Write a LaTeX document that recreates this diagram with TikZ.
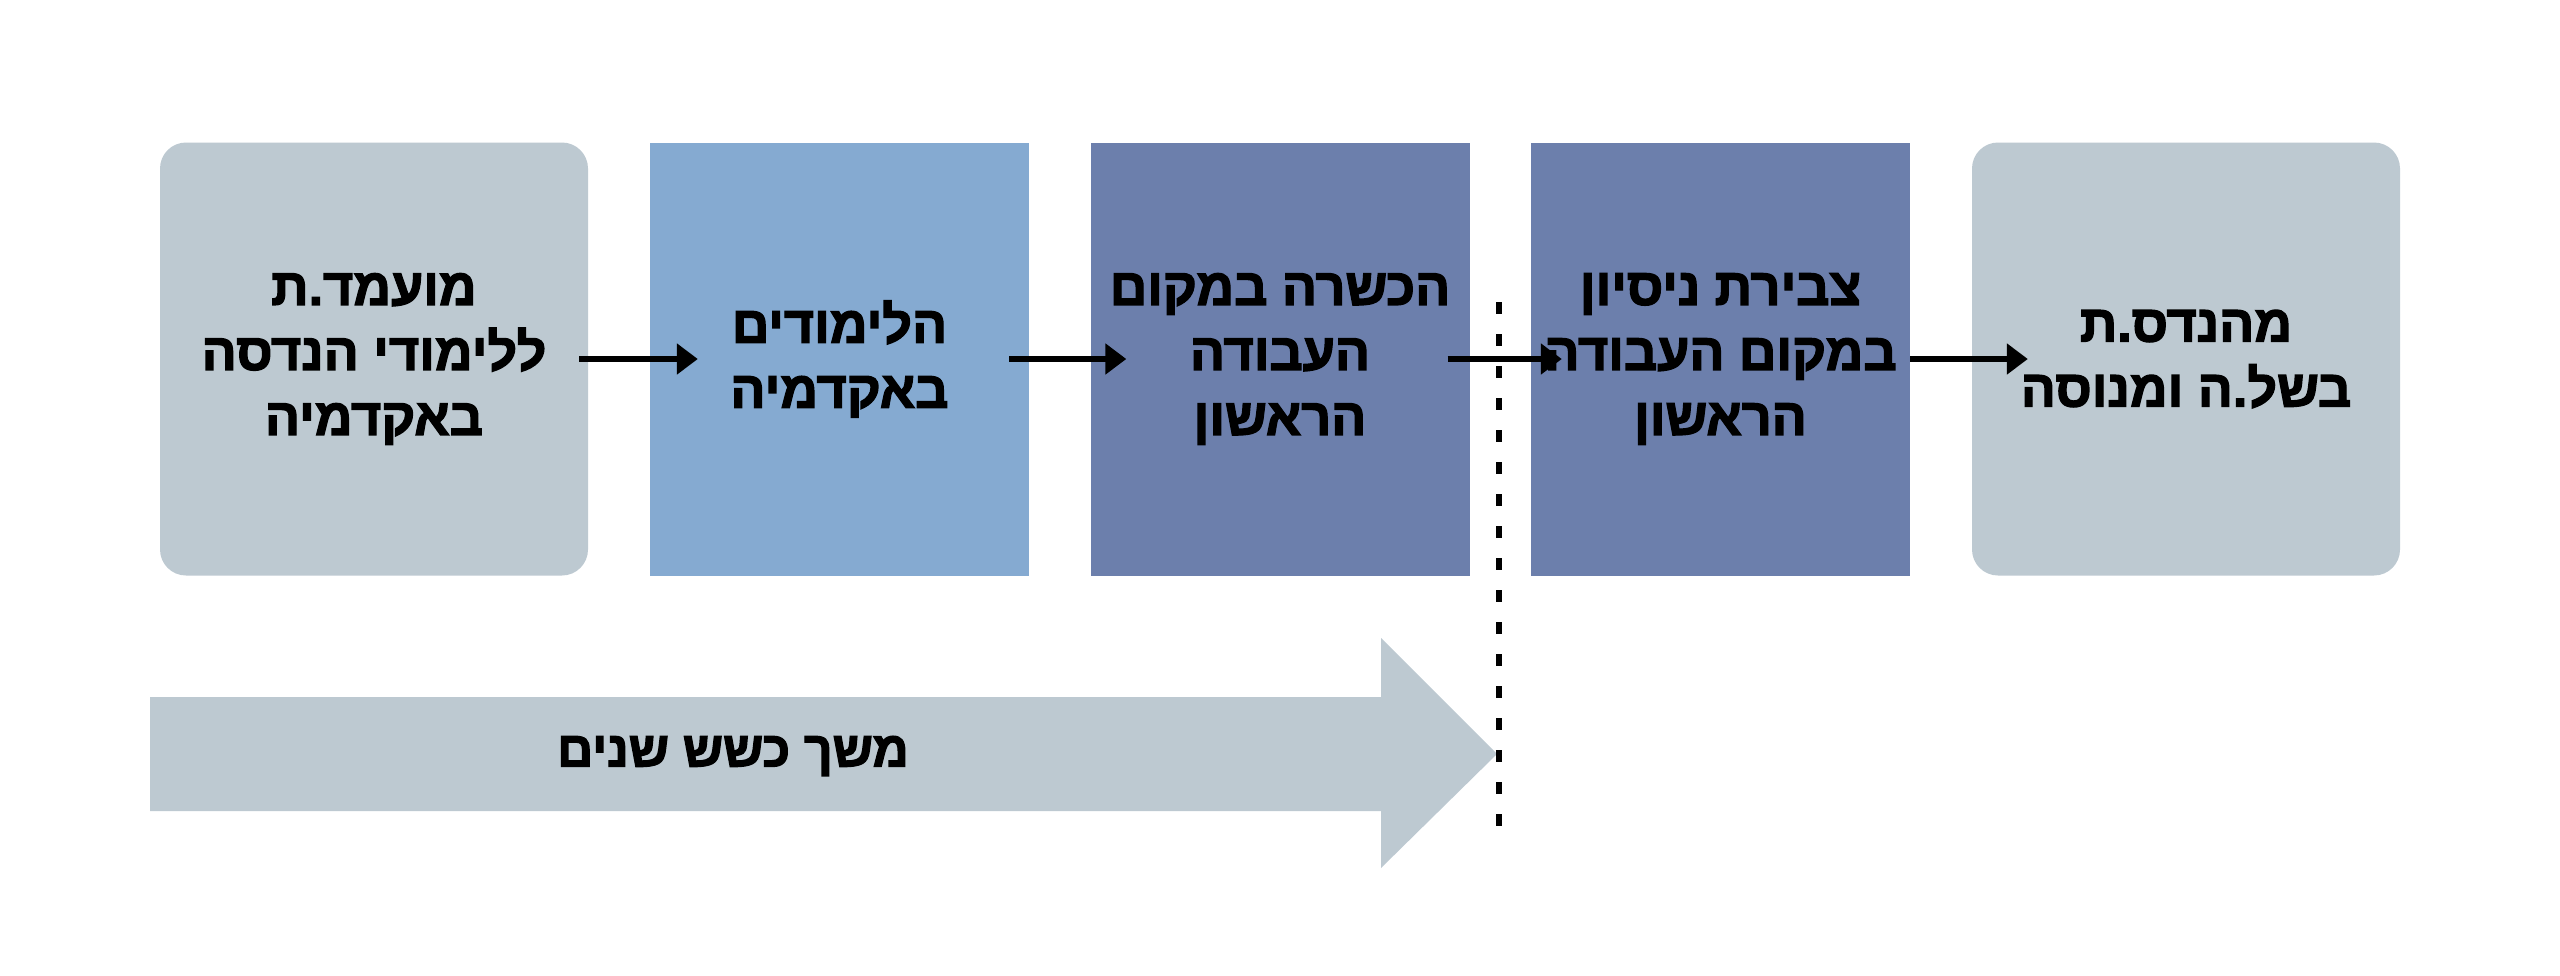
\documentclass[tikz,border=0pt]{standalone}
\usepackage{fontspec}
\TeXXeTstate=1
\newfontfamily\heb[Script=Hebrew,FakeBold=2.5]{Liberation Sans Bold}
\usetikzlibrary{arrows.meta}
\definecolor{greybox}{RGB}{189,201,209}
\definecolor{lightblue}{RGB}{133,170,209}
\definecolor{darkblue}{RGB}{108,127,172}
\tikzset{
  box/.style={inner sep=0pt, minimum height=433pt, align=center,
    font=\heb\fontsize{52}{65}\selectfont, text=black},
  sidebox/.style={box, fill=greybox, rounded corners=26pt, minimum width=428pt},
  midbox/.style={box, minimum width=379pt},
  link/.style={line width=5.5pt, -{Triangle[length=21pt,width=30pt]}},
  divider/.style={line width=6pt, dash pattern=on 12pt off 20pt},
}
\begin{document}
\begin{tikzpicture}[x=1pt,y=-1pt]
\useasboundingbox (0,0) rectangle (2560,975);
\fill[white] (0,0) rectangle (2560,975);
\node[sidebox] (b1) at (374,359) {\beginR מועמד.ת\endR\\ \beginR ללימודי הנדסה\endR\\ \beginR באקדמיה\endR};
\node[midbox, fill=lightblue] (b2) at (839.5,359) {\beginR הלימודים\endR\\ \beginR באקדמיה\endR};
\node[midbox, fill=darkblue] (b3) at (1280,359) {\beginR הכשרה במקום\endR\\ \beginR העבודה\endR\\ \beginR הראשון\endR};
\node[midbox, fill=darkblue] (b4) at (1720.5,359) {\beginR צבירת ניסיון\endR\\ \beginR במקום העבודה\endR\\ \beginR הראשון\endR};
\node[sidebox] (b5) at (2186,359) {\beginR מהנדס.ת\endR\\ \beginR בשל.ה ומנוסה\endR};
% big arrow
\fill[greybox] (150,697) -- (1381,697) -- (1381,638) -- (1497,754) -- (1381,868) -- (1381,811) -- (150,811) -- cycle;
\node[font=\heb\fontsize{50}{58}\selectfont] (dur) at (733,756) {\beginR משך כשש שנים\endR};
% divider
\coordinate (dtop) at (1499,302);
\coordinate (dbot) at (1499,832);
\draw[divider] (dtop) -- (dbot);
% connectors
\draw[link] ([xshift=-9pt]b1.east) -- ([xshift=48pt]b2.west);
\draw[link] ([xshift=-20pt]b2.east) -- ([xshift=36pt]b3.west);
\draw[link] ([xshift=-22pt]b3.east) -- ([xshift=31pt]b4.west);
\draw[link] (b4.east) -- ([xshift=56pt]b5.west);
\end{tikzpicture}
\end{document}
